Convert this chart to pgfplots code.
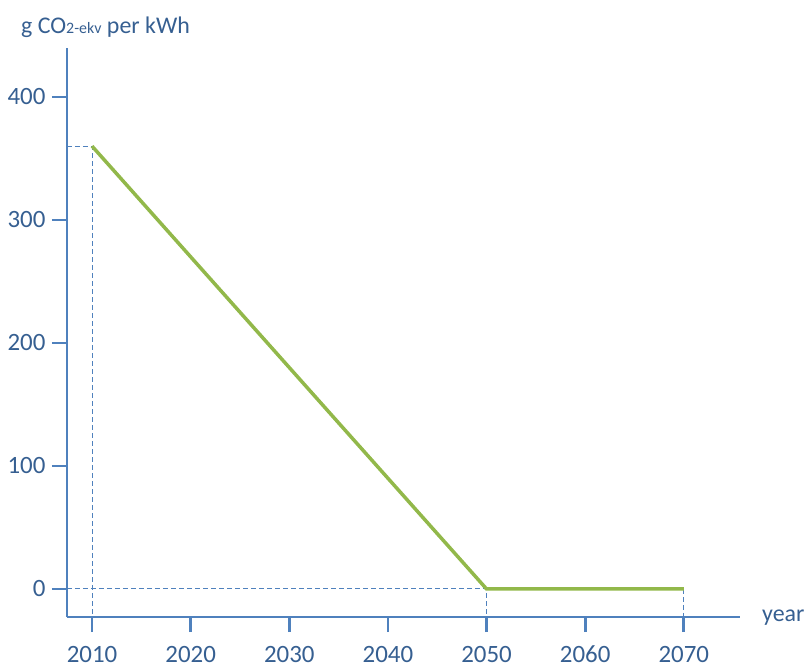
\documentclass[border=0pt]{standalone}
\usepackage{pgfplots}
\pgfplotsset{compat=1.18}
\usepackage{fontspec}
\setmainfont{Carlito}
\definecolor{axblue}{RGB}{79,129,189}
\definecolor{txtblue}{RGB}{54,95,145}
\definecolor{lgreen}{RGB}{146,184,74}
\begin{document}
\begin{tikzpicture}
\path[use as bounding box] (-67bp,-53bp) rectangle (739bp,617bp);
\begin{axis}[at={(0,0)}, anchor=south west, scale only axis,
  width=673bp, height=569bp,
  xmin=2007.46, xmax=2075.7, ymin=-22.8, ymax=439.8,
  axis x line=bottom, axis y line=left,
  axis line style={-, axblue, line width=2.8bp},
  xtick={2010,2020,...,2070}, ytick={0,100,...,400},
  tick align=outside, major tick length=15bp,
  tick style={axblue, line width=2.8bp},
  xticklabel style={font=\fontsize{25}{25}\selectfont, text=txtblue, text height=16bp, text depth=0bp, inner sep=0pt, yshift=-14bp},
  yticklabel style={font=\fontsize{25}{25}\selectfont, text=txtblue, xshift=-3bp},
  /pgf/number format/assume math mode=true,
  /pgf/number format/1000 sep={},
  clip=false]
\addplot[axblue, line width=1bp, dash pattern=on 5bp off 3bp] coordinates {(2007.46,360) (2010,360) (2010,-22.8)};
\addplot[axblue, line width=1bp, dash pattern=on 5bp off 3bp] coordinates {(2007.46,0) (2050,0) (2050,-22.8)};
\addplot[axblue, line width=1bp, dash pattern=on 5bp off 3bp] coordinates {(2070,0) (2070,-22.8)};
\addplot[lgreen, line width=3.5bp] coordinates {(2010,360) (2050,0) (2070,0)};
\end{axis}
\node[anchor=base west, text=txtblue, font=\fontsize{24}{24}\selectfont, inner sep=0pt] at (-46bp,583bp) {g CO{\fontsize{16}{16}\selectfont 2-ekv} per kWh};
\node[anchor=base west, text=txtblue, font=\fontsize{24}{24}\selectfont, inner sep=0pt] at (695bp,-4bp) {year};
\end{tikzpicture}
\end{document}
